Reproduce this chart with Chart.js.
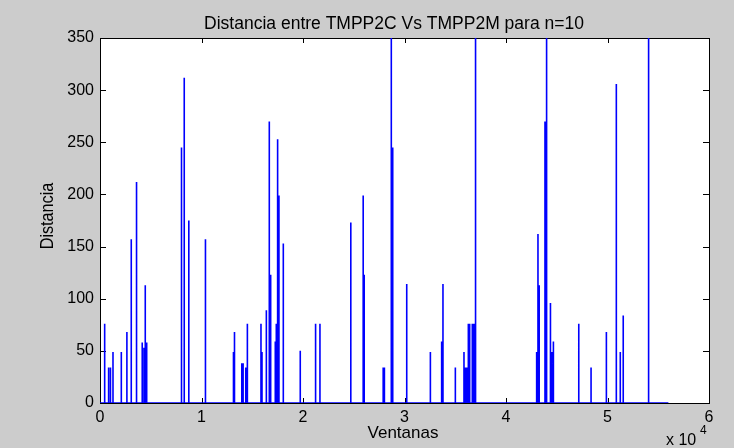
<!DOCTYPE html>
<html>
<head>
<meta charset="utf-8">
<script src="https://cdn.jsdelivr.net/npm/chart.js@4.4.0/dist/chart.umd.min.js"></script>
<style>
  body { margin: 0; background: #cccccc; }
  canvas { display: block; }
</style>
</head>
<body>
<canvas id="myChart" width="734" height="448"></canvas>
<script>
// posiciones de los picos (ventanas) y su distancia
var spikeX = [460, 850, 1030, 1280, 2100, 2650, 3080, 3600, 4160, 4330, 4460, 4600,
  8030, 8300, 8750, 10390, 13150, 13250, 13970, 14100, 14360, 14520,
  15860, 15960, 16390, 16680, 16815, 17270, 17370, 17500, 17630, 18060, 19730,
  21240, 21670, 24710, 25930, 26030, 27900, 28020, 28700, 28840,
  30220, 32550, 33660, 33790, 35010, 35860, 36000, 36150, 36290, 36420, 36680, 36800, 36900, 37000,
  43020, 43150, 43270, 43840, 44000, 44380, 44510, 44670, 47170, 48380, 49890,
  50870, 51260, 51550, 54050];
var spikeV = [76, 34, 34, 49, 49, 68, 157, 212, 58, 53, 113, 58,
  245, 312, 175, 157, 49, 68, 38, 38, 34, 76,
  76, 49, 89, 270, 123, 59, 76, 253, 199, 153, 50,
  76, 76, 173, 199, 123, 34, 34, 420, 245,
  114, 49, 59, 114, 34, 49, 34, 34, 76, 76, 76, 76, 76, 420,
  49, 162, 113, 270, 420, 96, 49, 59, 76, 34, 68,
  306, 49, 84, 420];
var lastX = 56000; // ultima ventana
var xTickLabels = ['0', '1', '2', '3', '4', '5', '6'];
var yTicks = [0, 50, 100, 150, 200, 250, 300, 350];

var font = '"Liberation Sans", Arial, sans-serif';

// armar la serie: linea en 0 con picos
var points = [{ x: 0, y: 0 }];
for (var i = 0; i < spikeX.length; i++) {
  points.push({ x: spikeX[i], y: 0 });
  points.push({ x: spikeX[i], y: spikeV[i] });
  points.push({ x: spikeX[i], y: 0 });
}
points.push({ x: lastX, y: 0 });

var matlabLook = {
  id: 'matlabLook',
  beforeDraw: function (chart) {
    var ctx = chart.ctx, a = chart.chartArea;
    ctx.save();
    ctx.fillStyle = '#cccccc';
    ctx.fillRect(0, 0, chart.width, chart.height);
    ctx.fillStyle = '#ffffff';
    ctx.fillRect(a.left, a.top, a.right - a.left, a.bottom - a.top);
    ctx.restore();
  },
  beforeDatasetsDraw: function (chart) {
    var ctx = chart.ctx, a = chart.chartArea;
    var xs = chart.scales.x, ys = chart.scales.y;
    ctx.save();
    ctx.strokeStyle = '#000000';
    ctx.lineWidth = 1;
    ctx.beginPath();
    xs.ticks.forEach(function (t) {
      var px = Math.round(xs.getPixelForValue(t.value)) + 0.5;
      ctx.moveTo(px, a.bottom); ctx.lineTo(px, a.bottom - 5);
      ctx.moveTo(px, a.top); ctx.lineTo(px, a.top + 5);
    });
    ys.ticks.forEach(function (t) {
      var py = Math.round(ys.getPixelForValue(t.value)) + 0.5;
      ctx.moveTo(a.left, py); ctx.lineTo(a.left + 6, py);
      ctx.moveTo(a.right, py); ctx.lineTo(a.right - 6, py);
    });
    ctx.stroke();
    ctx.strokeRect(Math.round(a.left) + 0.5, Math.round(a.top) + 0.5,
      Math.round(a.right - a.left), Math.round(a.bottom - a.top));
    ctx.restore();
  },
  afterDraw: function (chart) {
    var ctx = chart.ctx, a = chart.chartArea;
    ctx.save();
    ctx.fillStyle = '#000000';
    ctx.textBaseline = 'alphabetic';
    ctx.textAlign = 'center';
    ctx.font = '17.5px ' + font;
    ctx.fillText('Distancia entre TMPP2C Vs TMPP2M para n=10', 394, 29);
    ctx.font = '17px ' + font;
    ctx.fillText('Ventanas', 403, 438);
    // etiqueta y (mas angosta)
    ctx.save();
    ctx.translate(53, 216);
    ctx.rotate(-Math.PI / 2);
    ctx.scale(0.9, 1);
    ctx.font = '18px ' + font;
    ctx.fillText('Distancia', 0, 0);
    ctx.restore();
    // x 10^4
    ctx.textAlign = 'left';
    ctx.font = '16px ' + font;
    ctx.fillText('x 10', 666, 445);
    ctx.font = '12px ' + font;
    ctx.fillText('4', 700, 434);
    ctx.restore();
  }
};

var ctx = document.getElementById('myChart').getContext('2d');
var chart = new Chart(ctx, {
  type: 'line',
  data: {
    datasets: [{
      data: points,
      borderColor: '#0000ff',
      borderWidth: 1.6,
      pointRadius: 0,
      tension: 0,
      fill: false
    }]
  },
  options: {
    responsive: false,
    animation: false,
    layout: { padding: { top: 38, right: 25, left: 0, bottom: 0 } },
    plugins: { legend: { display: false }, tooltip: { enabled: false } },
    scales: {
      x: {
        type: 'linear',
        min: 0,
        max: 60000,
        grid: { display: false, drawTicks: false },
        border: { display: false },
        afterFit: function (s) { s.height = 45; },
        ticks: {
          stepSize: 10000,
          autoSkip: false,
          maxRotation: 0,
          padding: 5,
          color: '#000000',
          font: { family: font, size: 16 },
          callback: function (v) { return xTickLabels[Math.round(v / 10000)]; }
        }
      },
      y: {
        min: 0,
        max: 350,
        grid: { display: false, drawTicks: false },
        border: { display: false },
        afterFit: function (s) { s.width = 100; },
        afterBuildTicks: function (s) { s.ticks = yTicks.map(function (v) { return { value: v }; }); },
        ticks: {
          padding: 6,
          color: '#000000',
          font: { family: font, size: 16 }
        }
      }
    }
  },
  plugins: [matlabLook]
});
</script>
</body>
</html>
